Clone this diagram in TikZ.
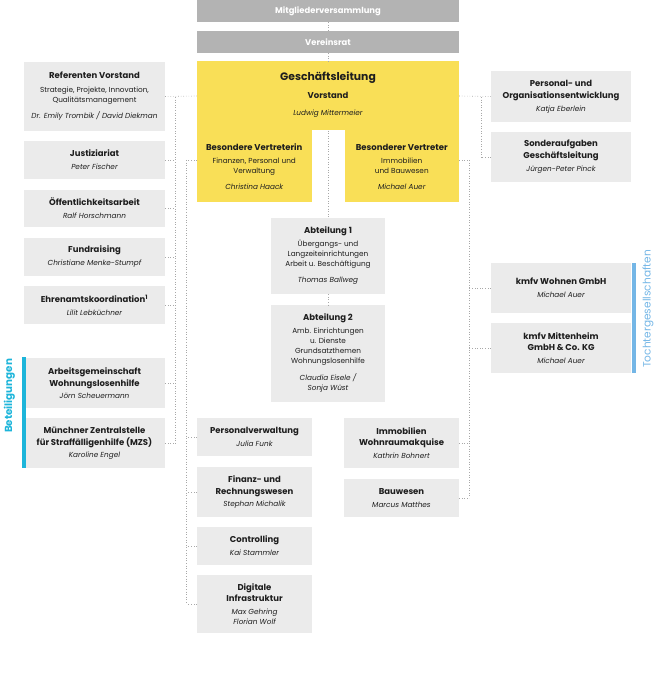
\documentclass[tikz,border=0pt]{standalone}
\usepackage{fontspec}
\setmainfont{Poppins}
\usetikzlibrary{calc}
\definecolor{boxgray}{HTML}{EBEBEB}
\definecolor{topgray}{HTML}{B3B3B3}
\definecolor{gelb}{HTML}{F9DF57}
\definecolor{ink}{HTML}{1E1E1E}
\definecolor{dotc}{HTML}{A8A8A8}
\definecolor{beteil}{HTML}{1DB5DA}
\definecolor{tochter}{HTML}{74B6E6}
\newcommand\ttl{\bfseries\fontsize{8.5}{10}\selectfont}
\newcommand\bdy{\fontsize{7.3}{10}\selectfont}
\newcommand\nme{\itshape\fontsize{7.3}{10}\selectfont}
\begin{document}
\begin{tikzpicture}[x=1pt,y=-1pt,
  gbox/.style={fill=boxgray, inner sep=0pt, align=center, text=ink, font=\bdy},
  ybox/.style={fill=gelb, inner sep=0pt, align=center, text=ink, font=\bdy},
  tbox/.style={fill=topgray, inner sep=0pt, align=center, text=white, font=\bfseries\fontsize{8.4}{10}\selectfont},
  conn/.style={draw=dotc, dotted, line width=0.6pt},
  bar/.style={inner sep=0pt, minimum width=3.5pt}
]
\useasboundingbox (0,0) rectangle (657,700);

% top gray
\node[tbox, minimum width=262pt, minimum height=22pt] (MV) at (328,11) {Mitgliederversammlung};
\node[tbox, minimum width=262pt, minimum height=22pt] (VR) at (328,42) {Vereinsrat};

% yellow block
\node[ybox, minimum width=262pt, minimum height=69pt] (GL) at (328,96) {};
\node[ybox, minimum width=114.5pt, minimum height=73pt] (BVL) at (254.25,166) {};
\node[ybox, minimum width=114.5pt, minimum height=73pt] (BVR) at (401.75,166) {};
\node[align=center, text=ink, inner sep=0pt, font=\bdy] (GLt) at (328,94.5) {{\bfseries\fontsize{10.8}{13}\selectfont Geschäftsleitung}\\[8pt]{\ttl Vorstand}\\[7pt]{\nme Ludwig Mittermeier}};
\node[align=center, text=ink, inner sep=0pt, font=\bdy] (BVLt) at (254.25,166.5) {{\ttl Besondere Vertreterin}\\[3pt]Finanzen, Personal und\\Verwaltung\\[6pt]{\nme Christina Haack}};
\node[align=center, text=ink, inner sep=0pt, font=\bdy] (BVRt) at (401.75,166.5) {{\ttl Besonderer Vertreter}\\[3pt]Immobilien\\und Bauwesen\\[6pt]{\nme Michael Auer}};

% left column
\node[gbox, minimum width=141pt, minimum height=69pt] (RV) at (94.5,96.5) {{\ttl Referenten Vorstand}\\[4pt]Strategie, Projekte, Innovation,\\Qualitätsmanagement\\[6pt]{\nme Dr. Emily Trombik / David Diekman}};
\node[gbox, minimum width=141pt, minimum height=38pt] (JU) at (94.5,160) {{\ttl Justiziariat}\\[3pt]{\nme Peter Fischer}};
\node[gbox, minimum width=141pt, minimum height=37pt] (OE) at (94.5,208.5) {{\ttl Öffentlichkeitsarbeit}\\[3pt]{\nme Ralf Horschmann}};
\node[gbox, minimum width=141pt, minimum height=38pt] (FU) at (94.5,257) {{\ttl Fundraising}\\[3pt]{\nme Christiane Menke-Stumpf}};
\node[gbox, minimum width=141pt, minimum height=38pt] (EK) at (94.5,305) {{\ttl Ehrenamtskoordination\textsuperscript{1}}\\[3pt]{\nme Lilit Lebküchner}};
\node[gbox, minimum width=141pt, minimum height=50pt] (AG) at (94.5,383) {{\ttl Arbeitsgemeinschaft}\\[2pt]{\ttl Wohnungslosenhilfe}\\[2pt]{\nme Jörn Scheuermann}};
\node[gbox, minimum width=141pt, minimum height=50pt] (MZ) at (94.5,443) {{\ttl Münchner Zentralstelle}\\[2pt]{\ttl für Straffälligenhilfe (MZS)}\\[2pt]{\nme Karoline Engel}};
\node[bar, fill=beteil, minimum height=111pt] (BB) at (24,412.5) {};
\node[rotate=90, text=beteil, inner sep=0pt, font=\bfseries\fontsize{10.3}{11}\selectfont] (BL) at (9.5,396) {Beteiligungen};

% right column
\node[gbox, minimum width=140pt, minimum height=51pt] (PO) at (561,96.5) {{\ttl Personal- und}\\[2pt]{\ttl Organisationsentwicklung}\\[3pt]{\nme Katja Eberlein}};
\node[gbox, minimum width=140pt, minimum height=50pt] (SA) at (561,157) {{\ttl Sonderaufgaben}\\[2pt]{\ttl Geschäftsleitung}\\[3pt]{\nme Jürgen-Peter Pinck}};
\node[gbox, minimum width=140pt, minimum height=50pt] (KW) at (561,288) {{\ttl kmfv Wohnen GmbH}\\[3pt]{\nme Michael Auer}};
\node[gbox, minimum width=140pt, minimum height=50pt] (KM) at (561,348) {{\ttl kmfv Mittenheim}\\[1pt]{\ttl GmbH \& Co. KG}\\[3pt]{\nme Michael Auer}};
\node[bar, fill=tochter, minimum height=110pt] (TB) at (634,318) {};
\node[rotate=90, text=tochter, inner sep=0pt, font=\fontsize{10.6}{11}\selectfont] (TL) at (648,309) {Tochtergesellschaften};

% center
\node[gbox, minimum width=114pt, minimum height=76pt] (A1) at (328,256) {{\ttl Abteilung 1}\\[3pt]Übergangs- und\\Langzeiteinrichtungen\\Arbeit u. Beschäftigung\\[6pt]{\nme Thomas Ballweg}};
\node[gbox, minimum width=114pt, minimum height=97pt] (A2) at (328,353.5) {{\ttl Abteilung 2}\\[3pt]Amb. Einrichtungen\\u. Dienste\\Grundsatzthemen\\Wohnungslosenhilfe\\[7pt]{\nme Claudia Eisele /}\\{\nme Sonja Wüst}};

% lower left
\node[gbox, minimum width=115pt, minimum height=38pt] (PV) at (254.5,437) {{\ttl Personalverwaltung}\\[3pt]{\nme Julia Funk}};
\node[gbox, minimum width=115pt, minimum height=50pt] (FR) at (254.5,492) {{\ttl Finanz- und}\\[2pt]{\ttl Rechnungswesen}\\[2pt]{\nme Stephan Michalik}};
\node[gbox, minimum width=115pt, minimum height=38pt] (CO) at (254.5,546) {{\ttl Controlling}\\[3pt]{\nme Kai Stammler}};
\node[gbox, minimum width=115pt, minimum height=58pt] (DI) at (254.5,604) {{\ttl Digitale}\\[1pt]{\ttl Infrastruktur}\\[3pt]{\nme Max Gehring}\\{\nme Florian Wolf}};

% lower right
\node[gbox, minimum width=115pt, minimum height=50pt] (IM) at (401.5,443) {{\ttl Immobilien}\\[1pt]{\ttl Wohnraumakquise}\\[3pt]{\nme Kathrin Bohnert}};
\node[gbox, minimum width=115pt, minimum height=38pt] (BW) at (401.5,498) {{\ttl Bauwesen}\\[3pt]{\nme Marcus Matthes}};

% bus coordinates
\coordinate (lb) at (175.5,97);
\coordinate (ilb) at (186.5,160);
\coordinate (rb) at (481,97);
\coordinate (irb) at (469,160);

% connectors center
\draw[conn] (MV.south) -- (VR.north);
\draw[conn] (VR.south) -- (GL.north);
\draw[conn] (GL.south) -- (A1.north);
\draw[conn] (A1.south) -- (A2.north);

% left outer bus
\draw[conn] (RV.east) -- (GL.west);
\draw[conn] (lb) -- (lb |- MZ.east);
\foreach \n in {JU,OE,FU,EK,AG,MZ} \draw[conn] (\n.east) -- (\n.east -| lb);

% left inner bus
\draw[conn] ([yshift=6pt]BVL.west) -- (ilb);
\draw[conn] (ilb) -- (ilb |- DI.west);
\foreach \n in {PV,FR,CO,DI} \draw[conn] (\n.west) -- (\n.west -| ilb);

% right outer bus
\draw[conn] (GL.east) -- (PO.west);
\draw[conn] (rb) -- (rb |- SA.west);
\draw[conn] (SA.west) -- (SA.west -| rb);

% right inner bus
\draw[conn] ([yshift=6pt]BVR.east) -- (irb);
\draw[conn] (irb) -- (irb |- BW.east);
\foreach \n in {KW,KM} \draw[conn] (\n.west) -- (\n.west -| irb);
\foreach \n in {IM,BW} \draw[conn] (\n.east) -- (\n.east -| irb);
\end{tikzpicture}
\end{document}
